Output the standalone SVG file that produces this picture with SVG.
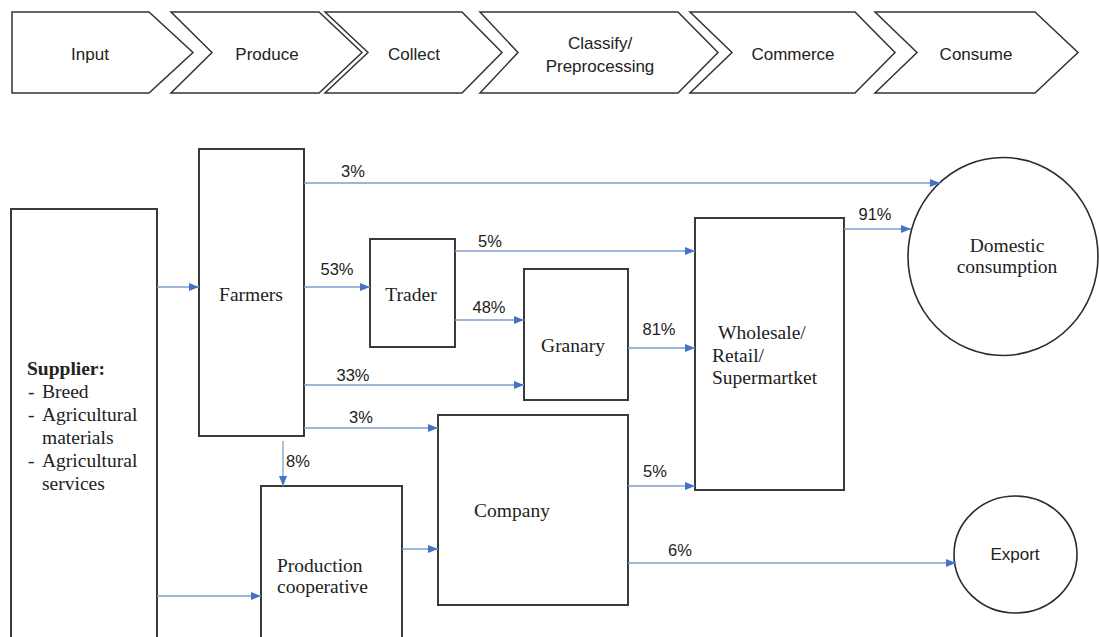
<svg xmlns="http://www.w3.org/2000/svg" width="1099" height="637" viewBox="0 0 1099 637">
<defs>
<marker id="ah" markerUnits="userSpaceOnUse" markerWidth="11" markerHeight="9" refX="10" refY="4" orient="auto">
<path d="M0,0 L10,4 L0,8 Z" fill="#4472C4"/>
</marker>
<style>
.chev{fill:#fff;stroke:#333;stroke-width:1.5;stroke-linejoin:miter}
.box{fill:#fff;stroke:#3a3a3a;stroke-width:2}
.circ{fill:#fff;stroke:#2b2b2b;stroke-width:1.6}
.st{font-family:"Liberation Sans",Arial,sans-serif;font-size:17px;fill:#222;text-anchor:middle}
.pc{font-family:"Liberation Sans",Arial,sans-serif;font-size:16.5px;fill:#222;text-anchor:middle}
.sr{font-family:"Liberation Serif","Times New Roman",serif;font-size:19.5px;fill:#222}
.mid{text-anchor:middle}
.cn path{fill:none;stroke:#7F9DCB;stroke-width:1.3;marker-end:url(#ah)}
</style>
</defs>
<rect width="1099" height="637" fill="#fff"/>

<g id="stage-input"><path class="chev" d="M12,12 L149,12 L193,52.5 L149,93 L12,93 Z"/><text class="st" x="90" y="60">Input</text></g>
<g id="stage-produce"><path class="chev" d="M171,12 L319,12 L362,52.5 L319,93 L171,93 L212,52.5 Z"/><text class="st" x="267" y="60">Produce</text></g>
<g id="stage-collect"><path class="chev" d="M325,12 L462,12 L502,52.5 L462,93 L325,93 L368,52.5 Z"/><text class="st" x="414" y="60">Collect</text></g>
<g id="stage-classify"><path class="chev" d="M480,12 L678,12 L718,52.5 L678,93 L480,93 L518,52.5 Z"/><text class="st" x="600" y="49">Classify/</text><text class="st" x="600" y="72">Preprocessing</text></g>
<g id="stage-commerce"><path class="chev" d="M690,12 L855,12 L895,52.5 L855,93 L690,93 L732,52.5 Z"/><text class="st" x="793" y="60">Commerce</text></g>
<g id="stage-consume"><path class="chev" d="M875,12 L1035,12 L1078,52.5 L1035,93 L875,93 L917,52.5 Z"/><text class="st" x="976" y="60">Consume</text></g>

<g id="supplier"><rect class="box" x="11" y="209" width="146" height="445" stroke="#555" stroke-width="2.5"/>
<text class="sr" x="27" y="375" font-weight="bold">Supplier:</text>
<text class="sr" y="398"><tspan x="28">-</tspan><tspan x="42">Breed</tspan></text>
<text class="sr" y="421"><tspan x="28">-</tspan><tspan x="42">Agricultural</tspan></text>
<text class="sr" x="42" y="444">materials</text>
<text class="sr" y="467"><tspan x="28">-</tspan><tspan x="42">Agricultural</tspan></text>
<text class="sr" x="42" y="490">services</text></g>

<g id="farmers"><rect class="box" x="199" y="149" width="105" height="287" stroke="#555" stroke-width="2.3"/><text class="sr mid" x="251" y="301">Farmers</text></g>
<g id="trader"><rect class="box" x="370" y="239" width="85" height="108"/><text class="sr mid" x="411" y="301">Trader</text></g>
<g id="granary"><rect class="box" x="524" y="269" width="104" height="131"/><text class="sr mid" x="573" y="352">Granary</text></g>
<g id="wholesale"><rect class="box" x="695" y="218" width="149" height="272" stroke="#555" stroke-width="2.3"/>
<text class="sr" x="718" y="339">Wholesale/</text><text class="sr" x="712" y="362">Retail/</text><text class="sr" x="712" y="384">Supermartket</text></g>
<g id="company"><rect class="box" x="438" y="415" width="190" height="190"/><text class="sr mid" x="512" y="517">Company</text></g>
<g id="cooperative"><rect class="box" x="261" y="486" width="141" height="170"/>
<text class="sr" x="277" y="572">Production</text><text class="sr" x="277" y="593">cooperative</text></g>
<g id="domestic"><ellipse class="circ" cx="1003" cy="256.5" rx="95" ry="99"/>
<text class="sr mid" x="1007" y="252">Domestic</text><text class="sr mid" x="1007" y="273">consumption</text></g>
<g id="export"><ellipse class="circ" cx="1015.5" cy="554.5" rx="61.5" ry="58.5"/><text class="st" x="1015" y="560">Export</text></g>

<g id="connectors" class="cn">
<path d="M157,287 H199"/>
<path d="M304,287 H370"/>
<path d="M304,183 H940"/>
<path d="M455,251 H695"/>
<path d="M455,320 H524"/>
<path d="M304,385 H524"/>
<path d="M628,348 H695"/>
<path d="M844,229 H911"/>
<path d="M304,428 H438"/>
<path d="M283,441 V486"/>
<path d="M402,549 H438"/>
<path d="M157,596 H261"/>
<path d="M628,486 H695"/>
<path d="M628,563 H956"/>
</g>
<g id="labels">
<text class="pc" x="353" y="177">3%</text>
<text class="pc" x="337" y="275">53%</text>
<text class="pc" x="490" y="247">5%</text>
<text class="pc" x="489" y="313">48%</text>
<text class="pc" x="353" y="381">33%</text>
<text class="pc" x="659" y="335">81%</text>
<text class="pc" x="875" y="220">91%</text>
<text class="pc" x="361" y="423">3%</text>
<text class="pc" x="298" y="467">8%</text>
<text class="pc" x="655" y="477">5%</text>
<text class="pc" x="680" y="556">6%</text>
</g>
</svg>
